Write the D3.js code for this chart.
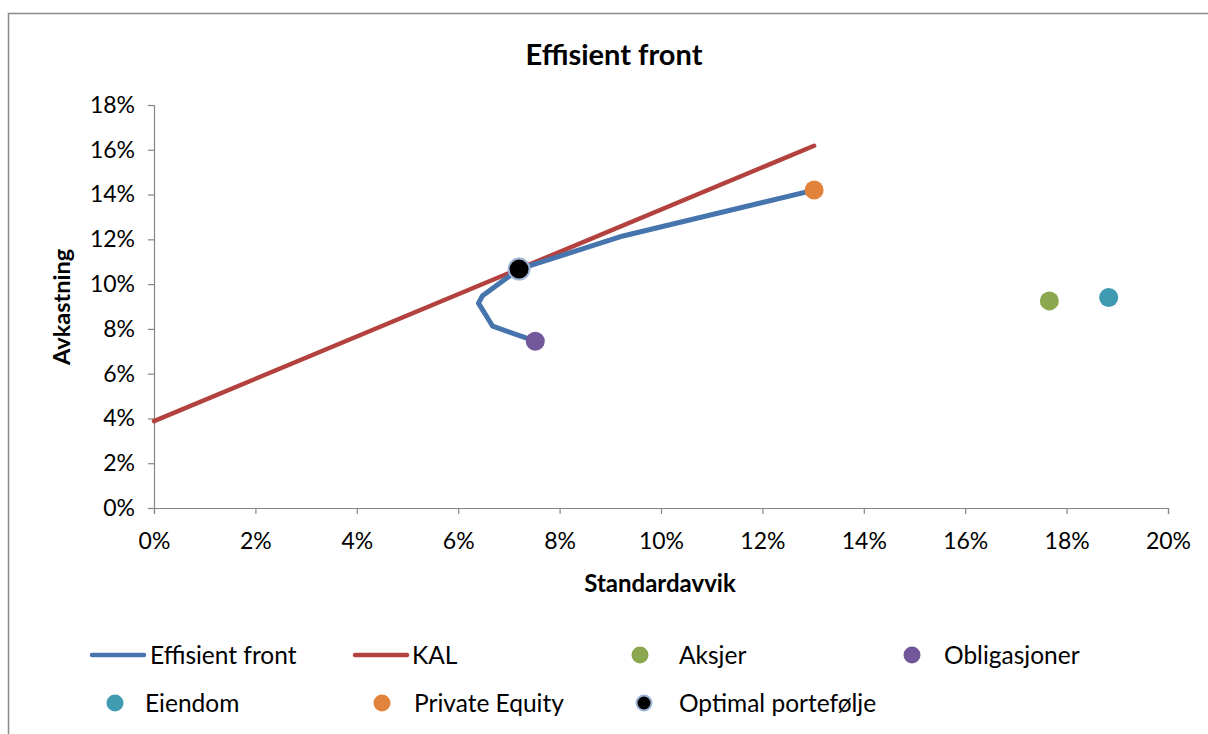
<!DOCTYPE html>
<html>
<head>
<meta charset="utf-8">
<script src="https://cdn.jsdelivr.net/npm/d3@7"></script>
<style>
  html, body { margin: 0; padding: 0; background: #fff; }
  svg { display: block; font-family: "Lato", "Open Sans", sans-serif; }
</style>
</head>
<body>
<svg id="chart" width="1208" height="734"></svg>
<script>
// Efficient frontier (standard deviation %, expected return %)
const frontierStd = [7.52, 6.68, 6.40, 6.48, 7.20, 9.25, 13.02];
const frontierRet = [7.45, 8.12, 9.15, 9.48, 10.67, 12.15, 14.20];

// Capital allocation line (KAL)
const kalStd = [0, 13.02];
const kalRet = [3.88, 16.18];

// Individual asset classes and the optimal portfolio
const assetNames = ["Aksjer", "Obligasjoner", "Eiendom", "Private Equity", "Optimal portefølje"];
const assetStd = [17.66, 7.52, 18.83, 13.02, 7.20];
const assetRet = [9.25, 7.45, 9.40, 14.20, 10.67];

const xTicks = [0, 2, 4, 6, 8, 10, 12, 14, 16, 18, 20];
const yTicks = [0, 2, 4, 6, 8, 10, 12, 14, 16, 18];

const colors = {
  "Effisient front": "#4674ad",
  "KAL": "#b3423f",
  "Aksjer": "#8ca84f",
  "Obligasjoner": "#72589a",
  "Eiendom": "#3f9ab2",
  "Private Equity": "#e2833b",
  "Optimal portefølje": "#000000"
};

const svg = d3.select("#chart");

// Outer chart frame
svg.append("path")
  .attr("d", "M8.5,740 L8.5,13.5 L1215,13.5")
  .attr("fill", "none").attr("stroke", "#888").attr("stroke-width", 1.5);

const plot = { left: 154, right: 1168, top: 105, bottom: 508 };
const x = d3.scaleLinear().domain([0, 20]).range([plot.left, plot.right]);
const y = d3.scaleLinear().domain([0, 18]).range([plot.bottom, plot.top]);

// Title
svg.append("text").attr("x", 614).attr("y", 65).attr("text-anchor", "middle")
  .attr("font-size", 29).attr("font-weight", "bold").text("Effisient front");

// Axes
const xAxis = svg.append("g").attr("transform", `translate(0,${plot.bottom})`)
  .call(d3.axisBottom(x).tickValues(xTicks).tickFormat(d => d + "%").tickSizeOuter(0).tickSize(6).tickPadding(19));
const yAxis = svg.append("g").attr("transform", `translate(${plot.left},0)`)
  .call(d3.axisLeft(y).tickValues(yTicks).tickFormat(d => d + "%").tickSizeOuter(0).tickSize(6).tickPadding(13));
[xAxis, yAxis].forEach(g => {
  g.select(".domain").attr("stroke", "#868686").attr("stroke-width", 1.2);
  g.selectAll(".tick line").attr("stroke", "#868686").attr("stroke-width", 1.2);
  g.selectAll(".tick text").attr("font-size", 23).attr("fill", "#000")
    .attr("font-family", "Lato, 'Open Sans', sans-serif");
});

// Axis titles
svg.append("text").attr("x", 660).attr("y", 592).attr("text-anchor", "middle")
  .attr("font-size", 24).attr("font-weight", "bold").text("Standardavvik");
svg.append("text").attr("transform", "translate(70,307) rotate(-90)").attr("text-anchor", "middle")
  .attr("font-size", 23.5).attr("font-weight", "bold").text("Avkastning");

const line = d3.line().x(d => x(d[0])).y(d => y(d[1]));

// KAL line
svg.append("path").datum(d3.zip(kalStd, kalRet))
  .attr("d", line).attr("fill", "none")
  .attr("stroke", colors["KAL"]).attr("stroke-width", 4.5).attr("stroke-linecap", "round");

// Efficient frontier
svg.append("path").datum(d3.zip(frontierStd, frontierRet))
  .attr("d", line).attr("fill", "none")
  .attr("stroke", colors["Effisient front"]).attr("stroke-width", 5)
  .attr("stroke-linejoin", "round").attr("stroke-linecap", "round");

// Asset markers
assetNames.forEach((name, i) => {
  const optimal = name === "Optimal portefølje";
  svg.append("circle")
    .attr("cx", x(assetStd[i])).attr("cy", y(assetRet[i]))
    .attr("r", optimal ? 10.5 : 9.5)
    .attr("fill", colors[name])
    .attr("stroke", optimal ? "#9fb6d6" : "none").attr("stroke-width", 2);
});

// Legend
const legendItems = [
  { name: "Effisient front", type: "line", sx: 92, tx: 150, ty: 655 },
  { name: "KAL", type: "line", sx: 355, tx: 412, ty: 655 },
  { name: "Aksjer", type: "dot", sx: 640, tx: 679, ty: 655 },
  { name: "Obligasjoner", type: "dot", sx: 912, tx: 944, ty: 655 },
  { name: "Eiendom", type: "dot", sx: 115, tx: 145, ty: 703 },
  { name: "Private Equity", type: "dot", sx: 382, tx: 414, ty: 703 },
  { name: "Optimal portefølje", type: "dot", sx: 644, tx: 679, ty: 703 }
];
const lg = svg.append("g");
legendItems.forEach(it => {
  if (it.type === "line") {
    lg.append("line").attr("x1", it.sx).attr("x2", it.sx + 52)
      .attr("y1", it.ty).attr("y2", it.ty)
      .attr("stroke", colors[it.name]).attr("stroke-width", 4.5).attr("stroke-linecap", "round");
  } else {
    const optimal = it.name === "Optimal portefølje";
    lg.append("circle").attr("cx", it.sx).attr("cy", it.ty).attr("r", optimal ? 7.5 : 8.5)
      .attr("fill", colors[it.name])
      .attr("stroke", optimal ? "#9fb6d6" : "none").attr("stroke-width", 2);
  }
  lg.append("text").attr("x", it.tx).attr("y", it.ty + 8.5)
    .attr("font-size", 24.5).text(it.name);
});
</script>
</body>
</html>
